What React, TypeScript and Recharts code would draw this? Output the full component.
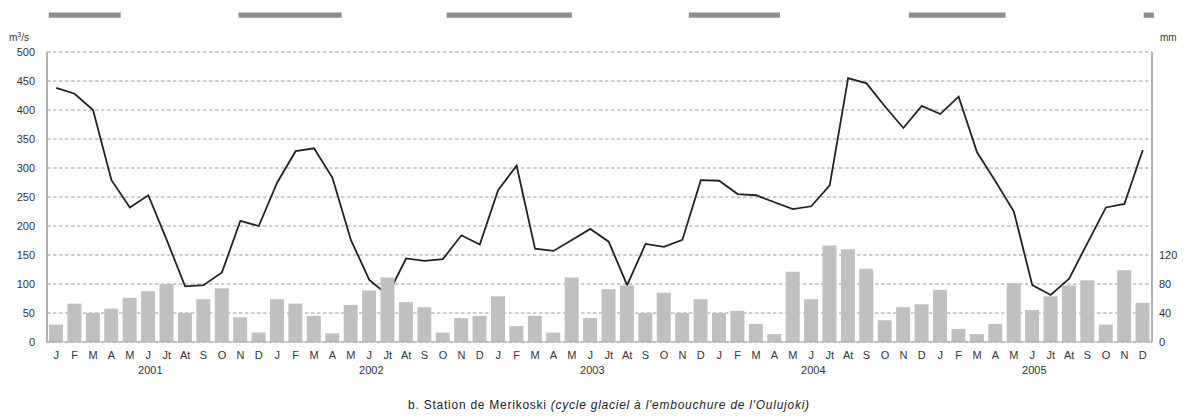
import {
  ComposedChart,
  Bar,
  Line,
  XAxis,
  YAxis,
  CartesianGrid,
  ReferenceArea,
} from "recharts";

const MONTHS = ["J", "F", "M", "A", "M", "J", "Jt", "At", "S", "O", "N", "D"];
const YEARS = ["2001", "2002", "2003", "2004", "2005"];

// débit mensuel (m3/s), janvier 2001 -> décembre 2005
const DISCHARGE = [
  438, 428, 400, 279, 232, 253, 176, 96, 98, 120, 209, 200,
  275, 329, 334, 283, 176, 107, 81, 144, 140, 143, 184, 168,
  262, 304, 161, 157, 176, 195, 173, 98, 169, 164, 176, 279,
  278, 255, 253, 241, 229, 234, 270, 455, 446, 406, 369, 407,
  393, 423, 327, 277, 225, 98, 81, 109, 171, 232, 238, 331,
];

// précipitations mensuelles (mm)
const PRECIP = [
  24, 53, 40, 46, 61, 70, 80, 40, 59, 74, 34, 13,
  59, 53, 36, 12, 51, 71, 89, 55, 48, 13, 33, 36,
  63, 22, 36, 13, 89, 33, 73, 78, 40, 68, 40, 59,
  40, 43, 25, 11, 97, 59, 133, 128, 101, 30, 48, 52,
  72, 18, 11, 25, 81, 44, 63, 78, 85, 24, 99, 54,
];

// périodes de glace (en mois depuis janvier 2001)
const ICE_START = [0.1, 10.4, 21.7, 34.85, 46.8, 59.55];
const ICE_END = [4.0, 16.0, 28.5, 39.8, 52.05, 60.1];

const LEFT_TICKS = [0, 50, 100, 150, 200, 250, 300, 350, 400, 450, 500];
const RIGHT_TICKS = [0, 40, 80, 120];

const data = DISCHARGE.map((q, i) => ({
  idx: i,
  month: MONTHS[i % 12],
  discharge: q,
  precip: PRECIP[i],
}));

const FONT = "'Liberation Sans', Arial, sans-serif";

function MonthTick(props: any) {
  const { x, y, payload } = props;
  const i = payload.index;
  return (
    <g>
      <text x={x} y={y} dy="0.71em" textAnchor="middle" fontSize={11} fill="#333" fontFamily={FONT}>
        {MONTHS[i % 12]}
      </text>
      {i % 12 === 5 && (
        <text x={x + 2} y={y + 15} dy="0.71em" textAnchor="middle" fontSize={11} fill="#333" fontFamily={FONT}>
          {YEARS[Math.floor(i / 12)]}
        </text>
      )}
    </g>
  );
}

export default function App() {
  return (
    <div style={{ position: "absolute", left: 0, top: 0, width: 1189, height: 416, background: "#fff", fontFamily: FONT }}>
      <ComposedChart
        width={1189}
        height={416}
        data={data}
        margin={{ top: 52, right: 0, left: 0, bottom: 44 }}
      >
        <CartesianGrid
          yAxisId="left"
          vertical={false}
          stroke="#9a9a9a"
          strokeDasharray="3.5 2.5"
        />
        <XAxis
          dataKey="month"
          interval={0}
          tick={<MonthTick />}
          tickLine={false}
          axisLine={{ stroke: "#aaa" }}
          height={30}
          tickMargin={3}
        />
        <XAxis
          xAxisId="ice"
          dataKey="idx"
          type="number"
          domain={[0, 60]}
          allowDataOverflow
          hide
        />
        <YAxis
          yAxisId="left"
          domain={[0, 500]}
          ticks={LEFT_TICKS}
          interval={0}
          width={47}
          tickLine={false}
          tickMargin={6}
          axisLine={{ stroke: "#999", strokeWidth: 1.5 }}
          tick={{ fontSize: 11, fill: "#333", fontFamily: FONT }}
        />
        <YAxis
          yAxisId="right"
          orientation="right"
          domain={[0, 400]}
          ticks={RIGHT_TICKS}
          interval={0}
          width={37}
          tickLine={false}
          tickMargin={1}
          axisLine={{ stroke: "#999", strokeWidth: 1.5 }}
          tick={{ fontSize: 11, fill: "#333", fontFamily: FONT, textAnchor: "start" }}
        />
        {ICE_START.map((s, i) => (
          <ReferenceArea
            key={i}
            xAxisId="ice"
            yAxisId="left"
            x1={s}
            x2={ICE_END[i]}
            y1={559}
            y2={568}
            ifOverflow="visible"
            fill="#8c8c8c"
            fillOpacity={1}
            stroke="none"
          />
        ))}
        <Line
          yAxisId="left"
          dataKey="discharge"
          type="linear"
          stroke="#222"
          strokeWidth={1.8}
          dot={false}
          zIndex={250}
          isAnimationActive={false}
        />
        <Bar
          yAxisId="right"
          dataKey="precip"
          fill="#c0c0c0"
          barSize={14}
          isAnimationActive={false}
        />
      </ComposedChart>
      <div style={{ position: "absolute", left: 9, top: 31, fontSize: 10, color: "#333" }}>
        m<sup style={{ fontSize: 7 }}>3</sup>/s
      </div>
      <div style={{ position: "absolute", left: 1160, top: 32, fontSize: 10, color: "#333" }}>mm</div>
      <div style={{ position: "absolute", left: 0, width: 1218, top: 398, textAlign: "center", fontSize: 12, letterSpacing: 0.75, color: "#222" }}>
        b. Station de Merikoski <i>(cycle glaciel à l'embouchure de l'Oulujoki)</i>
      </div>
    </div>
  );
}
